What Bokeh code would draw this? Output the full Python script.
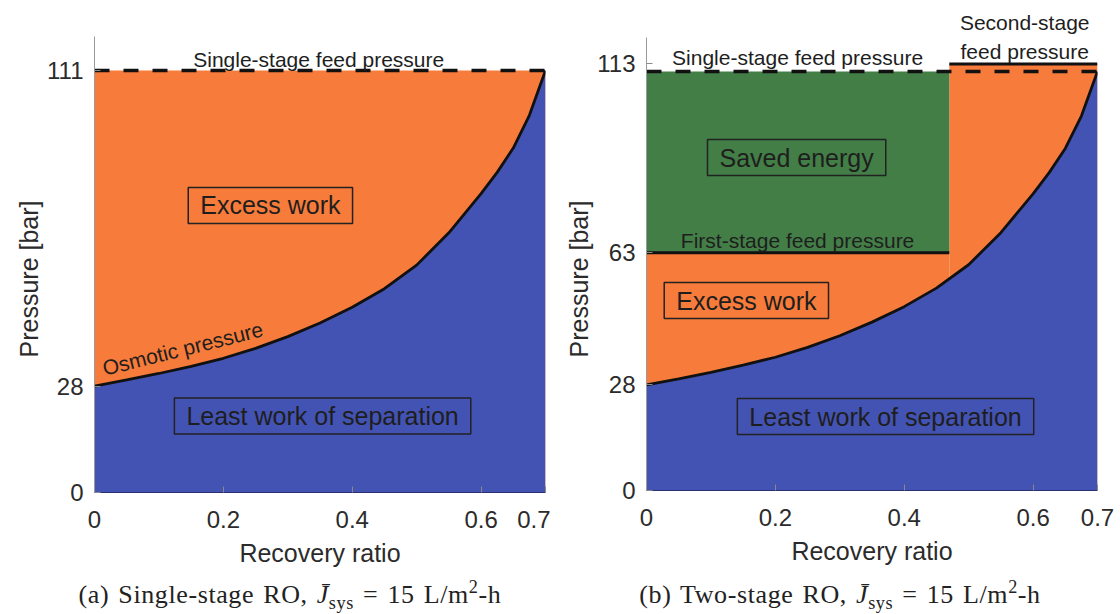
from bokeh.plotting import figure
from bokeh.models import Range1d, FixedTicker, Label, Div, Title
from bokeh.layouts import row, column
from bokeh.embed import file_html
from bokeh.resources import INLINE

# Osmotic pressure of the concentrate versus recovery ratio [bar]
recovery = [0.00, 0.05, 0.10, 0.15, 0.20, 0.25, 0.30, 0.35, 0.40, 0.45,
            0.50, 0.55, 0.60, 0.625, 0.65, 0.675, 0.70]
osmotic = [28.0, 29.6, 31.3, 33.2, 35.3, 37.9, 41.0, 44.6, 48.7, 53.6,
           59.8, 68.3, 78.6, 84.2, 90.6, 99.2, 111.0]

# Feed pressures [bar]
single_stage_feed = 111.0
stage_edges = [0.0, 0.47, 0.70]        # recovery at stage boundaries
stage_feed = [63.0, 113.0]             # first / second stage feed pressure

x_ticks = [0, 0.2, 0.4, 0.6, 0.7]
x_tick_labels = ["0", "0.2", "0.4", "0.6", "0.7"]
y_ticks_single = [0, 28, 111]
y_ticks_two = [0, 28, 63, 113]
y_axis_limit = 120

ORANGE = "#F77B3A"
BLUE = "#4353B3"
GREEN = "#437E47"
SANS = "Liberation Sans"
SERIF = "Liberation Serif"


def make_panel(width, height, left, right, bottom, y_top, y_ticks, ylabel_offset):
    # the frame reaches the top of the canvas so that notes above the axis
    # limit stay inside it; the axis line itself stops at y_axis_limit
    p = figure(width=width, height=height, output_backend="svg",
               toolbar_location=None, title=None,
               x_range=Range1d(0, 0.7), y_range=Range1d(0, y_top),
               min_border_left=left, min_border_right=right,
               min_border_top=0, min_border_bottom=bottom)
    p.outline_line_color = None
    p.grid.visible = False
    p.background_fill_color = "white"
    p.border_fill_color = "white"

    p.xaxis.ticker = FixedTicker(ticks=x_ticks)
    p.xaxis.major_label_overrides = {t: s for t, s in zip(x_ticks, x_tick_labels)}
    p.yaxis.ticker = FixedTicker(ticks=y_ticks)
    p.yaxis.major_label_overrides = {t: str(t) for t in y_ticks}
    p.yaxis.bounds = (0, y_axis_limit)
    for ax in (p.xaxis, p.yaxis):
        ax.minor_tick_line_color = None
        ax.major_tick_in = 6
        ax.major_tick_out = 0
        ax.major_tick_line_color = "#8a8a8a"
        ax.major_label_text_font = SANS
        ax.major_label_text_font_size = "24px"
        ax.major_label_text_color = "#2b2b2b"
        ax.axis_label_text_font = SANS
        ax.axis_label_text_font_size = "25px"
        ax.axis_label_text_font_style = "normal"
        ax.axis_label_text_color = "#2b2b2b"
    p.xaxis.axis_line_color = "#2a3170"
    p.yaxis.axis_line_color = "#9a9a9a"
    p.xaxis.major_label_standoff = 18
    p.yaxis.major_label_standoff = 11
    p.xaxis.axis_label_standoff = 8
    p.xaxis.axis_label = "Recovery ratio"

    # vertical axis title, centred on the 0..y_axis_limit span of the axis
    p.add_layout(Title(text="Pressure [bar]", align="left", offset=ylabel_offset,
                       standoff=4, text_font=SANS, text_font_size="25px",
                       text_font_style="normal", text_color="#2b2b2b"), "left")
    return p


def boxed(p, x, y, text):
    p.add_layout(Label(x=x, y=y, text=text, text_align="center",
                       text_baseline="middle", text_font=SANS,
                       text_font_size="25px", text_color="#1e1e1e",
                       border_line_color="#222222", border_line_width=1.5,
                       padding=dict(left=12, right=12, top=4, bottom=4)))


def note(p, x, y, text, angle=0):
    p.add_layout(Label(x=x, y=y, text=text,
                       text_align="center" if angle == 0 else "left",
                       text_baseline="middle", text_font=SANS,
                       text_font_size="21px", text_color="#1e1e1e",
                       angle=angle, angle_units="deg"))


# ---- (a) single-stage RO ----
pa = make_panel(550, 580, 94, 5, 88, 129.4, y_ticks_single, 135)
pa.quad(left=[recovery[0]], right=[recovery[-1]], bottom=[0], top=[single_stage_feed],
        fill_color=ORANGE, line_color=None)
pa.varea(x=recovery, y1=[0] * len(recovery), y2=osmotic, fill_color=BLUE)
pa.line(recovery, osmotic, line_color="#111111", line_width=2.8)
pa.line([recovery[0], recovery[-1]], [single_stage_feed] * 2,
        line_color="#111111", line_width=3.5, line_dash="15 14")
note(pa, 0.348, 113.9, "Single-stage feed pressure")
note(pa, 0.013, 32.6, "Osmotic pressure", angle=14)
boxed(pa, 0.273, 75.5, "Excess work")
boxed(pa, 0.354, 20.1, "Least work of separation")

# ---- (b) two-stage RO ----
pb = make_panel(570, 580, 96, 23, 90, 129.8, y_ticks_two, 133)
pb.quad(left=stage_edges[:-1], right=stage_edges[1:], bottom=[0, 0], top=stage_feed,
        fill_color=ORANGE, line_color=None)
pb.quad(left=[stage_edges[0]], right=[stage_edges[1]], bottom=[stage_feed[0]],
        top=[single_stage_feed], fill_color=GREEN, line_color=None)
pb.varea(x=recovery, y1=[0] * len(recovery), y2=osmotic, fill_color=BLUE)
pb.line(recovery, osmotic, line_color="#111111", line_width=2.8)
pb.segment(x0=stage_edges[:-1], x1=stage_edges[1:], y0=stage_feed, y1=stage_feed,
           line_color="#111111", line_width=3)
pb.line([recovery[0], recovery[-1]], [single_stage_feed] * 2,
        line_color="#111111", line_width=3.5, line_dash="15 14")
note(pb, 0.2345, 114.8, "Single-stage feed pressure")
note(pb, 0.2345, 66.3, "First-stage feed pressure")
note(pb, 0.587, 123.9, "Second-stage")
note(pb, 0.587, 116.4, "feed pressure")
boxed(pb, 0.233, 88.2, "Saved energy")
boxed(pb, 0.155, 50.3, "Excess work")
boxed(pb, 0.371, 19.6, "Least work of separation")


def caption(letter, name, width, shift):
    html = (f"({letter}) {name}, <i>J&#772;</i>"
            f"<sub style='line-height:0;font-size:70%'>sys</sub> = 15 L/m"
            f"<sup style='line-height:0;font-size:70%'>2</sup>-h")
    return Div(text=html, width=width, height=34, margin=0,
               styles={"font-family": SERIF, "font-size": "26px",
                       "line-height": "30px", "text-align": "center",
                       "letter-spacing": "0.6px", "word-spacing": "2px",
                       "color": "#222222", "position": "relative",
                       "left": f"{shift}px", "white-space": "nowrap"})


layout = row(column(pa, caption("a", "Single-stage RO", 550, 15), spacing=0),
             column(pb, caption("b", "Two-stage RO", 570, 5), spacing=0),
             spacing=0)

open("out.html", "w").write(file_html(layout, INLINE))
